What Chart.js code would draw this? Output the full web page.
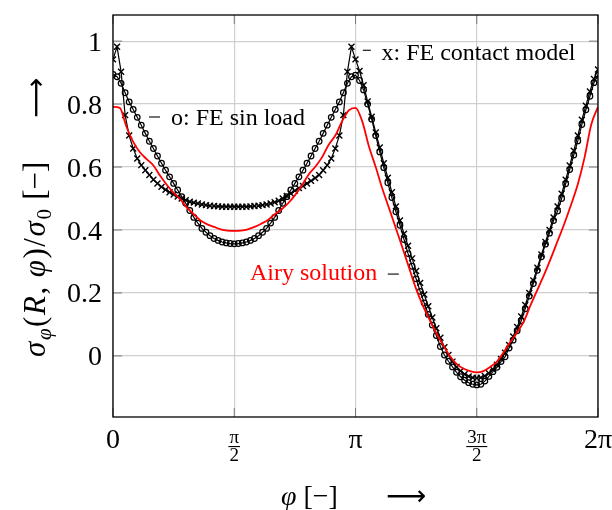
<!DOCTYPE html>
<html><head><meta charset="utf-8">
<script src="https://cdn.jsdelivr.net/npm/chart.js@4.4.1/dist/chart.umd.min.js"></script>
<style>html,body{margin:0;padding:0;background:#fff;}canvas{display:block;}</style>
</head><body>
<canvas id="c" width="612" height="510" style="width:612px;height:510px"></canvas>
<script>
// ---------- data ----------
const angleDeg = [0,3,6,9,12,15,18,21,24,27,30,33,36,39,42,45,48,51,54,57,60,63,66,69,72,75,78,81,84,87,90,
93,96,99,102,105,108,111,114,117,120,123,126,129,132,135,138,141,144,147,150,153,156,159,162,165,168,171,174,177,180,
183,186,189,192,195,198,201,204,207,210,213,216,219,222,225,228,231,234,237,240,243,246,249,252,255,258,261,264,267,270,
273,276,279,282,285,288,291,294,297,300,303,306,309,312,315,318,321,324,327,330,333,336,339,342,345,348,351,354,357,360];

const feSinLoad = [0.894,0.887,0.866,0.836,0.807,0.783,0.758,0.733,0.707,0.682,0.659,0.635,0.612,0.590,0.569,0.548,0.527,0.506,0.485,0.462,0.440,0.422,0.405,0.393,0.382,0.373,0.367,0.362,0.359,0.357,0.356,
0.357,0.359,0.362,0.367,0.373,0.382,0.393,0.405,0.422,0.440,0.462,0.485,0.506,0.527,0.548,0.569,0.590,0.612,0.635,0.659,0.682,0.707,0.733,0.758,0.783,0.807,0.836,0.866,0.887,0.892,
0.875,0.845,0.800,0.752,0.700,0.648,0.598,0.550,0.503,0.458,0.415,0.370,0.325,0.285,0.245,0.205,0.168,0.132,0.098,0.065,0.030,0.003,-0.017,-0.035,-0.052,-0.066,-0.077,-0.085,-0.090,-0.092,
-0.090,-0.080,-0.065,-0.050,-0.036,-0.018,-0.003,0.025,0.050,0.080,0.112,0.150,0.190,0.230,0.272,0.315,0.355,0.390,0.430,0.460,0.500,0.547,0.592,0.638,0.683,0.735,0.782,0.825,0.868,0.892];

const feContact = [0.942,0.982,0.903,0.765,0.700,0.659,0.627,0.606,0.590,0.575,0.560,0.548,0.537,0.528,0.520,0.513,0.506,0.500,0.495,0.490,0.487,0.484,0.481,0.479,0.477,0.476,0.475,0.474,0.474,0.474,0.474,
0.474,0.474,0.474,0.475,0.476,0.477,0.479,0.481,0.484,0.488,0.493,0.500,0.508,0.516,0.525,0.533,0.540,0.548,0.556,0.565,0.575,0.590,0.606,0.627,0.659,0.700,0.765,0.903,0.982,0.942,
0.905,0.860,0.808,0.760,0.710,0.662,0.612,0.566,0.520,0.475,0.430,0.388,0.350,0.310,0.270,0.232,0.195,0.158,0.122,0.088,0.058,0.028,0.003,-0.018,-0.035,-0.048,-0.058,-0.065,-0.069,-0.070,
-0.069,-0.064,-0.055,-0.043,-0.028,-0.010,0.010,0.035,0.062,0.092,0.125,0.162,0.200,0.240,0.280,0.322,0.362,0.400,0.440,0.475,0.515,0.560,0.605,0.652,0.700,0.750,0.795,0.840,0.880,0.910];

const airyAngleDeg = [0,5,10,15,20,25,30,35,40,45,50,55,60,65,70,75,80,85,90,95,100,105,110,115,120,125,130,135,140,145,150,155,160,165,170,175,180,
185,190,195,200,205,210,215,220,225,230,235,240,245,250,255,260,265,270,275,280,285,290,295,300,305,310,315,320,325,330,335,340,345,350,355,360];
const airySolution = [0.791,0.788,0.728,0.680,0.647,0.625,0.605,0.572,0.543,0.518,0.497,0.470,0.450,0.430,0.418,0.410,0.402,0.398,0.397,0.398,0.402,0.410,0.420,0.432,0.450,0.465,0.485,0.510,0.540,0.575,0.600,0.630,0.670,0.700,0.745,0.780,0.788,
0.745,0.665,0.600,0.530,0.468,0.405,0.342,0.277,0.213,0.160,0.115,0.072,0.035,0.000,-0.025,-0.040,-0.048,-0.052,-0.048,-0.035,-0.018,0.012,0.045,0.075,0.110,0.162,0.210,0.258,0.310,0.365,0.420,0.480,0.545,0.630,0.735,0.791];

const yTickValues = [0, 0.2, 0.4, 0.6, 0.8, 1];
const yTickLabels = ['0', '0.2', '0.4', '0.6', '0.8', '1'];
const xTickValues = [0, Math.PI/2, Math.PI, 3*Math.PI/2, 2*Math.PI];
const xTickLabels = [['0'], ['π','2'], ['π'], ['3π','2'], ['2π']];
const yRange = [-0.194, 1.083];

// labels placed in data coordinates: [text, phi, value, color], pin dashes: [phi1, phi2, value]
const labelTexts = [['o: FE sin load', 0.751, 0.733, '#000'], ['x: FE contact model', 3.479, 0.940, '#000'], ['Airy solution', 1.774, 0.241, '#ff0000']];
const pinDashes = [[0.466, 0.609, 0.759], [3.236, 3.340, 0.971], [3.560, 3.703, 0.260]];

const toRad = d => d * Math.PI / 180;
const SERIF = '"Liberation Serif", "DejaVu Serif", serif';

function drawRich(ctx, parts, x, y, gap) {
  let cx = x;
  for (const [t, f, dy] of parts) {
    ctx.font = f;
    ctx.fillText(t, cx, y + (dy || 0));
    cx += ctx.measureText(t).width + (gap || 0);
  }
  return cx - x;
}

const decor = {
  id: 'decor',
  beforeDatasetsDraw(chart) {
    const ctx = chart.ctx, xs = chart.scales.x, ys = chart.scales.y, a = chart.chartArea;
    ctx.save();
    ctx.strokeStyle = '#7a7a7a'; ctx.lineWidth = 1;
    const L = 9;
    const seg = (x1, y1, x2, y2) => { ctx.beginPath(); ctx.moveTo(x1, y1); ctx.lineTo(x2, y2); ctx.stroke(); };
    yTickValues.forEach(v => { const y = ys.getPixelForValue(v); seg(a.left, y, a.left + L, y); seg(a.right - L, y, a.right, y); });
    xTickValues.forEach(v => { const x = xs.getPixelForValue(v); seg(x, a.top, x, a.top + L); seg(x, a.bottom - L, x, a.bottom); });
    ctx.restore();
  },
  afterDraw(chart) {
    const ctx = chart.ctx, xs = chart.scales.x, ys = chart.scales.y, a = chart.chartArea;
    ctx.save();
    ctx.strokeStyle = '#000'; ctx.lineWidth = 1.3;
    ctx.strokeRect(a.left, a.top, a.right - a.left, a.bottom - a.top);
    ctx.fillStyle = '#000';
    // y tick labels
    ctx.font = '28px ' + SERIF; ctx.textAlign = 'right'; ctx.textBaseline = 'alphabetic';
    yTickValues.forEach((v, i) => ctx.fillText(yTickLabels[i], a.left - 11, ys.getPixelForValue(v) + 9.5));
    // x tick labels
    ctx.textAlign = 'center';
    xTickValues.forEach((v, i) => {
      const x = xs.getPixelForValue(v), lab = xTickLabels[i];
      if (lab.length === 1) {
        ctx.font = '28px ' + SERIF; ctx.fillText(lab[0], x, a.bottom + 31);
      } else {
        ctx.font = '19px ' + SERIF;
        ctx.fillText(lab[0], x, a.bottom + 26);
        const w = ctx.measureText(lab[0]).width + 2;
        ctx.fillRect(x - w / 2, a.bottom + 29, w, 1.1);
        ctx.fillText(lab[1], x, a.bottom + 44);
      }
    });
    // pin dashes and labels
    ctx.lineWidth = 1.1; ctx.strokeStyle = '#000';
    pinDashes.forEach(([p1, p2, v]) => {
      const y = ys.getPixelForValue(v);
      ctx.beginPath(); ctx.moveTo(xs.getPixelForValue(p1), y); ctx.lineTo(xs.getPixelForValue(p2), y); ctx.stroke();
    });
    ctx.textAlign = 'left'; ctx.font = '24px ' + SERIF;
    labelTexts.forEach(([t, p, v, c]) => { ctx.fillStyle = c; ctx.fillText(t, xs.getPixelForValue(p), ys.getPixelForValue(v)); });
    ctx.fillStyle = '#000';
    // x axis title
    const IT = 'italic 28px ' + SERIF, RM = '28px ' + SERIF, AR = '28px "DejaVu Sans", ' + SERIF;
    drawRich(ctx, [['φ', IT], [' [−]', RM]], 281, 505);
    drawRich(ctx, [['⟶', AR]], 386, 505);
    // y axis title (rotated)
    ctx.save();
    ctx.translate(45, 357); ctx.rotate(-Math.PI / 2);
    const YI = 'italic 31px ' + SERIF, YR = '31px ' + SERIF;
    const SUBI = 'italic 21px ' + SERIF, SUB = '21px ' + SERIF;
    drawRich(ctx, [['σ', YI], ['φ', SUBI, 6], ['(', YR], ['R', YI], [',', YR], [' φ', YI], [')', YR], ['/', YR], ['σ', YI], ['0', SUB, 6], [' [−]', YR]], 0, 0, 1.6);
    drawRich(ctx, [['⟶', AR]], 239, 0);
    ctx.restore();
    ctx.restore();
  }
};

const ptsOf = (deg, vals) => deg.map((d, i) => ({ x: toRad(d), y: vals[i] }));

new Chart(document.getElementById('c'), {
  type: 'line',
  data: {
    datasets: [
      { label: 'Airy solution', data: ptsOf(airyAngleDeg, airySolution), borderColor: '#ff0000', borderWidth: 1.8,
        pointRadius: 0, cubicInterpolationMode: 'monotone', fill: false, order: 0 },
      { label: 'FE sin load', data: ptsOf(angleDeg, feSinLoad), borderColor: '#000', borderWidth: 1.2,
        pointStyle: 'circle', pointRadius: 2.8, pointBorderWidth: 1.25, pointBorderColor: '#000',
        pointBackgroundColor: 'rgba(0,0,0,0)', tension: 0, fill: false, order: 2 },
      { label: 'FE contact model', data: ptsOf(angleDeg, feContact), borderColor: '#000', borderWidth: 1.2,
        pointStyle: 'crossRot', pointRadius: 4.2, pointBorderWidth: 1.4, pointBorderColor: '#000',
        tension: 0, fill: false, order: 1 }
    ]
  },
  options: {
    responsive: false, animation: false, devicePixelRatio: 1,
    layout: { padding: { top: 15, right: 14, left: 0, bottom: 0 } },
    plugins: { legend: { display: false }, tooltip: { enabled: false } },
    scales: {
      x: { type: 'linear', min: 0, max: 2 * Math.PI,
        afterBuildTicks: s => { s.ticks = xTickValues.map(v => ({ value: v })); },
        afterFit: s => { s.height = 93; },
        ticks: { display: false },
        grid: { color: '#cfcfcf', lineWidth: 1.2, drawTicks: false },
        border: { display: false } },
      y: { type: 'linear', min: yRange[0], max: yRange[1],
        afterBuildTicks: s => { s.ticks = yTickValues.map(v => ({ value: v })); },
        afterFit: s => { s.width = 113; },
        ticks: { display: false },
        grid: { color: '#cfcfcf', lineWidth: 1.2, drawTicks: false },
        border: { display: false } }
    }
  },
  plugins: [decor]
});
</script>
</body></html>
